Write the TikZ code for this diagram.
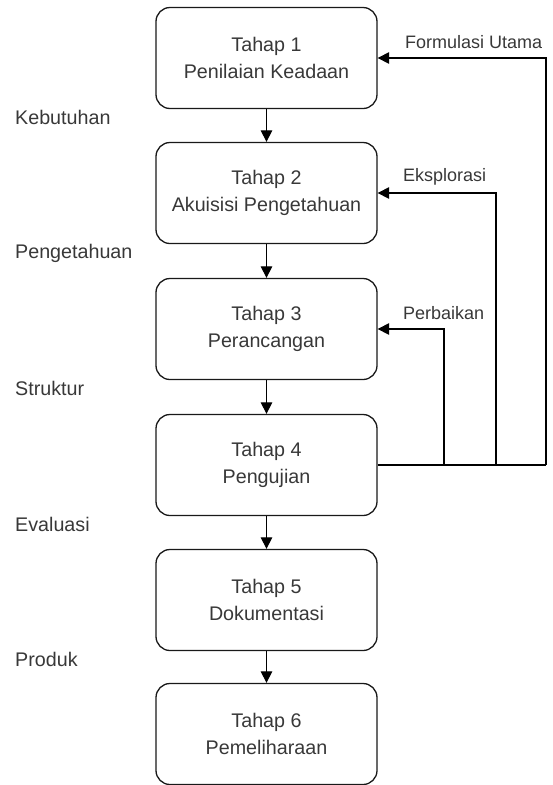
\documentclass[tikz,border=0pt]{standalone}
\usepackage{fontspec}
\setmainfont{Liberation Sans}
\usetikzlibrary{arrows.meta}
\begin{document}
\begin{tikzpicture}[x=1pt,y=-1pt,
  stage/.style={draw=black!90, line width=1.3pt, rounded corners=14pt, minimum width=221pt, minimum height=101pt, inner sep=0pt, align=center, font=\fontsize{19.7}{27}\selectfont, text=black!78},
  lab/.style={font=\fontsize{19.7}{24}\selectfont, text=black!78, anchor=west, inner sep=0pt},
  elab/.style={font=\fontsize{18}{22}\selectfont, text=black!78, anchor=west, inner sep=0pt},
  arr/.style={draw=black, line width=1.2pt, -{Triangle[length=11.5pt,width=11.5pt]}},
  ln/.style={draw=black, line width=1.2pt}]
\useasboundingbox (0,0) rectangle (552,785);
\node[stage] (b1) at (266.5,58) {Tahap 1\\Penilaian Keadaan};
\node[stage] (b2) at (266.5,193) {Tahap 2\\Akuisisi Pengetahuan};
\node[stage] (b3) at (266.5,329) {Tahap 3\\Perancangan};
\node[stage] (b4) at (266.5,465) {Tahap 4\\Pengujian};
\node[stage] (b5) at (266.5,600) {Tahap 5\\Dokumentasi};
\node[stage] (b6) at (266.5,734) {Tahap 6\\Pemeliharaan};
\draw[arr] (b1) -- (b2);
\draw[arr] (b2) -- (b3);
\draw[arr] (b3) -- (b4);
\draw[arr] (b4) -- (b5);
\draw[arr] (b5) -- (b6);
\coordinate (r1) at (546,0);
\coordinate (r2) at (496,0);
\coordinate (r3) at (444,0);
\draw[ln] (b4.east) -- (b4.east -| r1);
\draw[arr] (b4.east -| r1) -- (b1.east -| r1) -- (b1.east);
\draw[arr] (b4.east -| r2) -- (b2.east -| r2) -- (b2.east);
\draw[arr] (b4.east -| r3) -- (b3.east -| r3) -- (b3.east);
\node[elab] (f) at (405,42) {Formulasi Utama};
\node[elab] (e) at (403,177) {Eksplorasi};
\node[elab] (p) at (403,313) {Perbaikan};
\node[lab] (l1) at (15,117) {Kebutuhan};
\node[lab] (l2) at (15,253) {Pengetahuan};
\node[lab] (l3) at (15,388) {Struktur};
\node[lab] (l4) at (15,524) {Evaluasi};
\node[lab] (l5) at (15,659) {Produk};
\end{tikzpicture}
\end{document}
